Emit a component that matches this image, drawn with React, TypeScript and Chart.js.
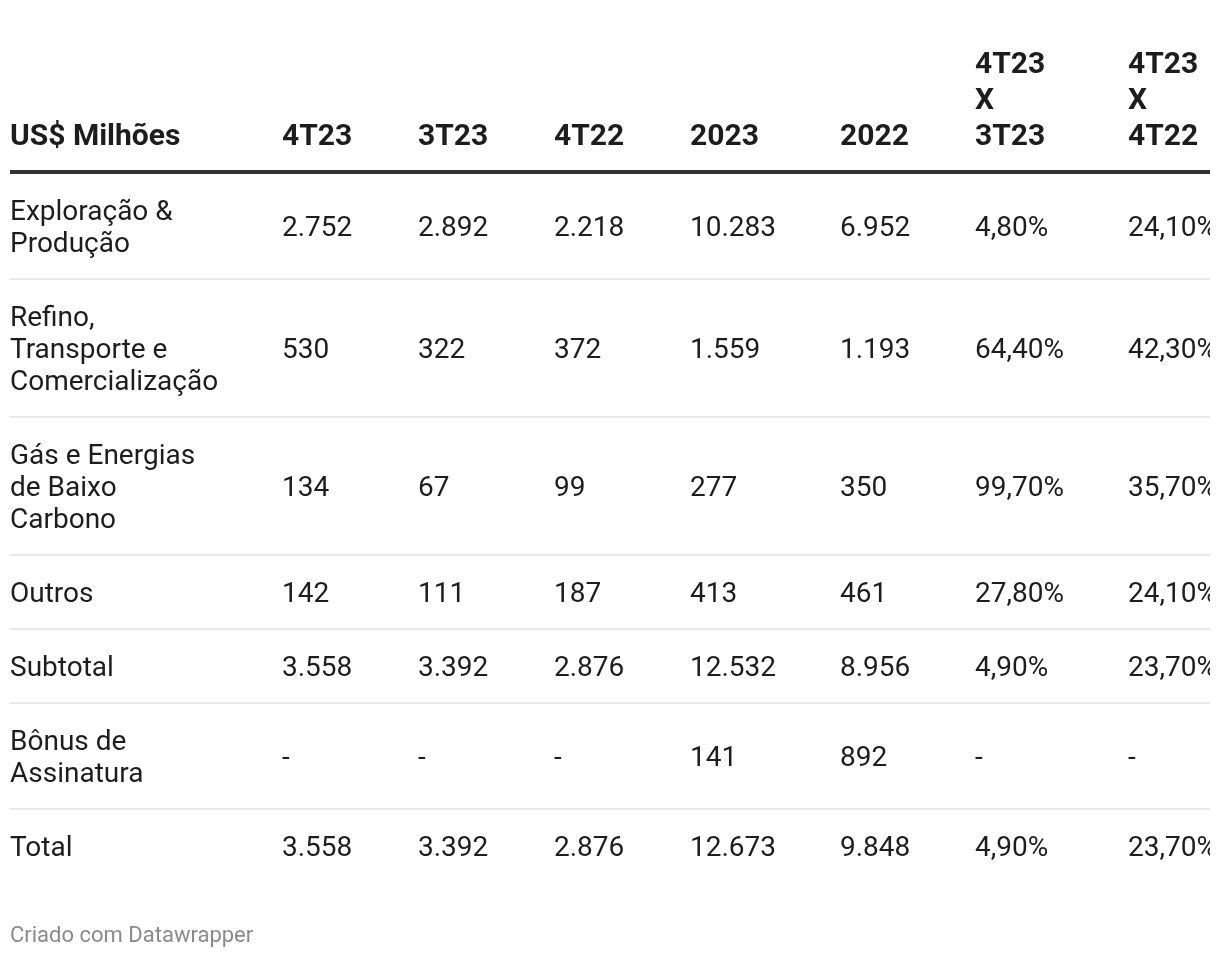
import React, { useEffect, useRef } from "react";
import { Chart, registerables } from "chart.js";

Chart.register(...registerables);

// ---- data ----
const HEADERS = ["US$ Milhões", "4T23", "3T23", "4T22", "2023", "2022", "4T23\nX\n3T23", "4T23\nX\n4T22"];
const ROW_LABELS = [
  "Exploração &\nProdução",
  "Refino,\nTransporte e\nComercialização",
  "Gás e Energias\nde Baixo\nCarbono",
  "Outros",
  "Subtotal",
  "Bônus de\nAssinatura",
  "Total",
];
const Q4_23 = [2752, 530, 134, 142, 3558, null, 3558];
const Q3_23 = [2892, 322, 67, 111, 3392, null, 3392];
const Q4_22 = [2218, 372, 99, 187, 2876, null, 2876];
const Y2023 = [10283, 1559, 277, 413, 12532, 141, 12673];
const Y2022 = [6952, 1193, 350, 461, 8956, 892, 9848];
const VAR_Q4_Q3 = [4.8, 64.4, 99.7, 27.8, 4.9, null, 4.9];
const VAR_Q4_Q4 = [24.1, 42.3, 35.7, 24.1, 23.7, null, 23.7];
const FOOTER = "Criado com Datawrapper";

// ---- layout / style ----
const W = 1202;
const H = 942;
const COL_X = [0, 272, 408, 544, 680, 830, 965, 1118];
const TABLE_W = 1200;
const HEADER_LINE_Y = [57, 93, 129];
const RULE_Y = 164;
const BODY_START = 165;
const LINE_PITCH = 32;
const ROW_PAD = 42;
const TEXT_SHIFT = 3;
const FONT = "Roboto, 'Noto Sans', sans-serif";
const BODY_SIZE = 28;
const HEAD_SIZE = 30;
const TEXT = "#1d1d1d";

const fmtInt = (v: number | null) =>
  v === null ? "-" : String(v).replace(/\B(?=(\d{3})+(?!\d))/g, ".");
const fmtPct = (v: number | null) => (v === null ? "-" : v.toFixed(2).replace(".", ",") + "%");

const COLUMNS: { values: (number | null)[]; fmt: (v: number | null) => string }[] = [
  { values: Q4_23, fmt: fmtInt },
  { values: Q3_23, fmt: fmtInt },
  { values: Q4_22, fmt: fmtInt },
  { values: Y2023, fmt: fmtInt },
  { values: Y2022, fmt: fmtInt },
  { values: VAR_Q4_Q3, fmt: fmtPct },
  { values: VAR_Q4_Q4, fmt: fmtPct },
];

function rowGeometry() {
  const out: { top: number; bottom: number; center: number; lines: string[] }[] = [];
  let y = BODY_START;
  for (const label of ROW_LABELS) {
    const lines = label.split("\n");
    const h = ROW_PAD + LINE_PITCH * lines.length;
    out.push({ top: y, bottom: y + h, center: y + h / 2, lines });
    y += h;
  }
  return out;
}

export default function App() {
  const ref = useRef<HTMLCanvasElement | null>(null);

  useEffect(() => {
    if (!ref.current) return;
    const rows = rowGeometry();

    const tablePlugin = {
      id: "tablePlugin",
      afterDatasetsDraw(chart: any) {
        const ctx = chart.ctx as CanvasRenderingContext2D;
        const xs = chart.scales.x;
        const ys = chart.scales.y;
        ctx.save();
        ctx.textAlign = "left";
        ctx.textBaseline = "middle";

        // header
        ctx.fillStyle = TEXT;
        ctx.font = `bold ${HEAD_SIZE}px ${FONT}`;
        HEADERS.forEach((h, c) => {
          const parts = h.split("\n");
          const n = parts.length;
          parts.forEach((p, k) => {
            const yv = HEADER_LINE_Y[3 - n + k];
            ctx.fillText(p, xs.getPixelForValue(COL_X[c]), ys.getPixelForValue(yv));
          });
        });

        // header rule
        ctx.strokeStyle = "#333333";
        ctx.lineWidth = 4;
        ctx.beginPath();
        ctx.moveTo(xs.getPixelForValue(0), ys.getPixelForValue(RULE_Y));
        ctx.lineTo(xs.getPixelForValue(TABLE_W), ys.getPixelForValue(RULE_Y));
        ctx.stroke();

        // row separators
        ctx.strokeStyle = "#e9e9e9";
        ctx.lineWidth = 2;
        rows.forEach((r, i) => {
          if (i === rows.length - 1) return;
          ctx.beginPath();
          ctx.moveTo(xs.getPixelForValue(0), ys.getPixelForValue(r.bottom));
          ctx.lineTo(xs.getPixelForValue(TABLE_W), ys.getPixelForValue(r.bottom));
          ctx.stroke();
        });

        // row labels
        ctx.fillStyle = TEXT;
        ctx.font = `${BODY_SIZE}px ${FONT}`;
        rows.forEach((r) => {
          const n = r.lines.length;
          r.lines.forEach((l, k) => {
            const yv = r.center + (k - (n - 1) / 2) * LINE_PITCH;
            ctx.fillText(l, xs.getPixelForValue(COL_X[0]), ys.getPixelForValue(yv) + TEXT_SHIFT);
          });
        });

        // cell values drawn at each dataset point
        chart.data.datasets.forEach((ds: any, di: number) => {
          const meta = chart.getDatasetMeta(di);
          meta.data.forEach((el: any, pi: number) => {
            ctx.fillText(ds.cellText[pi], el.x, el.y + TEXT_SHIFT);
          });
        });

        // footer
        ctx.fillStyle = "#8a8a8a";
        ctx.font = `22px ${FONT}`;
        ctx.fillText(FOOTER, xs.getPixelForValue(0), ys.getPixelForValue(928));
        ctx.restore();
      },
    };

    const datasets = COLUMNS.map((col, c) => ({
      label: HEADERS[c + 1].replace(/\n/g, " "),
      data: col.values.map((_, r) => ({ x: COL_X[c + 1], y: rows[r].center })),
      cellText: col.values.map((v) => col.fmt(v)),
      pointRadius: 0,
      pointHoverRadius: 0,
      showLine: false,
    }));

    const chart = new Chart(ref.current, {
      type: "scatter",
      data: { datasets } as any,
      options: {
        responsive: false,
        animation: false,
        events: [],
        layout: { padding: { left: 2, right: 0, top: 0, bottom: 0 } },
        plugins: { legend: { display: false }, tooltip: { enabled: false } },
        scales: {
          x: { type: "linear", display: false, min: 0, max: TABLE_W },
          y: { type: "linear", display: false, min: 0, max: H, reverse: true },
        },
      },
      plugins: [tablePlugin],
    });
    return () => chart.destroy();
  }, []);

  return (
    <div style={{ width: W, height: H, background: "#ffffff" }}>
      <canvas ref={ref} width={W} height={H} style={{ display: "block" }} />
    </div>
  );
}
